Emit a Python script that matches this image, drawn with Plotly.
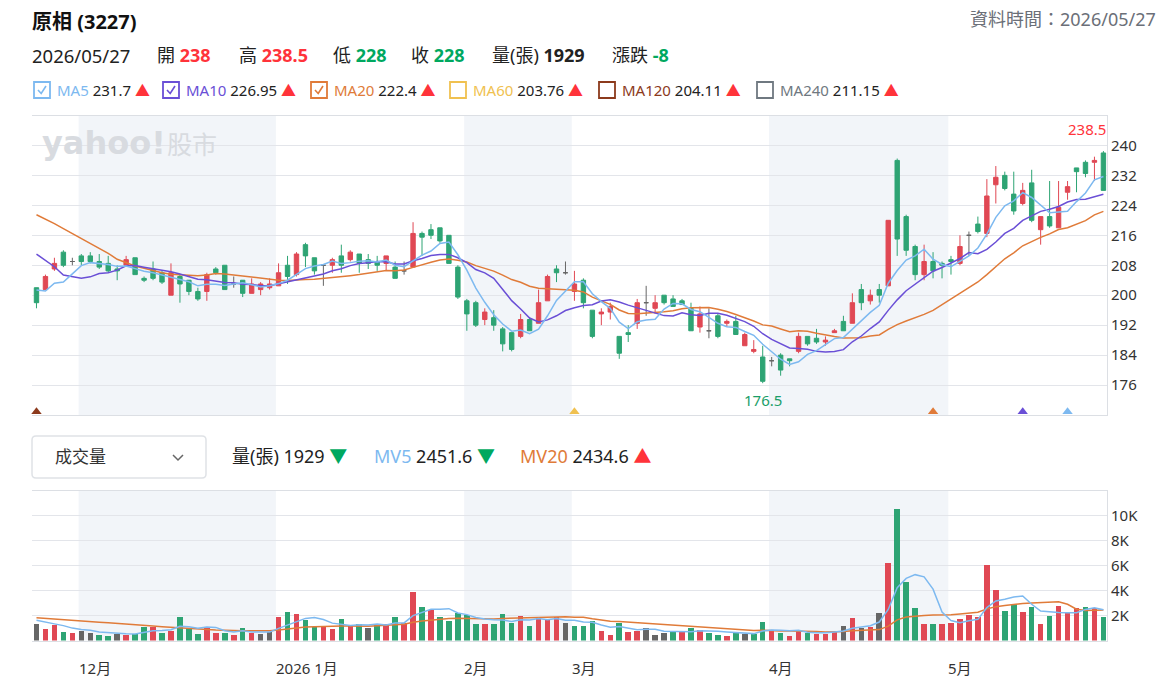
import plotly.graph_objects as go

W, H = 1170, 686
FONT = "Noto Sans, Noto Sans CJK TC, sans-serif"

# ---------------- data ----------------
stock_name = "原相 (3227)"
data_date = "2026/05/27"
month_labels = ["11月", "12月", "2026 1月", "2月", "3月", "4月", "5月"]
month_days = [5, 22, 21, 12, 22, 20, 18]   # trading days per month shown

opens = [202, 201.5, 207, 211.5, 209, 210.5, 210.5, 209, 208.5, 207,
         208, 210, 204.5, 207, 206, 200, 205, 204, 201, 201,
         207, 208, 203, 204, 200.5, 201.5, 202, 202.5, 208, 205.5,
         213.5, 210, 208, 208, 210.5, 209.5, 211, 209.5, 209, 208.5,
         207.5, 206.5, 207.5, 216.5, 217.5, 218, 216, 207.5, 198.5, 198,
         193.5, 194, 191, 190, 189, 193.5, 192.5, 198.5, 207, 206,
         201, 204, 196, 195, 195.5, 189, 190, 192.5, 198, 196.5,
         200, 199, 198.5, 196.5, 191.5, 190.5, 194.5, 192.5, 193, 186.5,
         185, 183.5, 182.5, 184, 183, 185, 189, 188.5, 187.5, 190,
         193, 192.5, 201.5, 198.5, 201.5, 202.5, 236, 221, 213, 205.5,
         209, 208.5, 209.5, 208.5, 216, 219, 216.5, 229.5, 232, 227,
         224.5, 230, 217.5, 221, 218, 227.5, 234, 235.5, 235.5, 238]
highs = [202, 205.5, 210, 212, 210, 211, 211.5, 211, 210.5, 208,
         210.5, 210, 205, 209, 206.5, 208.5, 205.5, 204, 202, 206,
         207.5, 208, 205, 204, 204.5, 203.5, 204.5, 208.5, 210.5, 211.5,
         214, 210, 208, 210, 213.5, 212, 211, 211, 210.5, 210.5,
         209, 209, 219.5, 217, 219, 218, 216, 208, 199, 198.5,
         196.5, 196, 191.5, 190, 195, 194, 201.5, 205.5, 208, 209,
         206.5, 204.5, 196, 196.5, 198, 189, 192, 199, 202.5, 200,
         200, 200, 199, 198, 197, 196.5, 195, 193.5, 194.5, 190,
         188, 186.5, 183.5, 184.5, 183, 190, 189, 191, 189, 191,
         194.5, 200.5, 203, 201.5, 203, 220, 236.5, 221.5, 213.5, 213.5,
         211.5, 209, 210.5, 216, 217, 221, 231, 234.5, 233, 233,
         230, 233.5, 221, 230.5, 230.5, 230.5, 234, 236, 237, 238.5]
lows = [196.5, 201.5, 206.5, 207.5, 208, 208, 208.5, 207, 206, 204,
        208, 205.5, 203.5, 204, 203, 200, 198, 200, 198.5, 198.5,
        205.5, 201.5, 202, 199.5, 200.5, 200, 201.5, 202.5, 203, 205,
        207.5, 205.5, 202.5, 206, 206, 209, 206, 207, 206.5, 206.5,
        204.5, 205.5, 207.5, 210.5, 215, 214, 208.5, 199, 190.5, 191.5,
        192, 190.5, 185, 185, 188.5, 190.5, 192.5, 198.5, 203.5, 205.5,
        198.5, 196.5, 188.5, 192, 193.5, 183, 187.5, 191, 194.5, 195,
        197.5, 197, 197.5, 190.5, 190, 188.5, 188.5, 191.5, 189.5, 186.5,
        184.5, 176.5, 181, 178.5, 181, 184.5, 186.5, 187, 186.5, 190,
        190.5, 192.5, 196, 197.5, 198, 202.5, 210.5, 210.5, 204, 204,
        204.5, 204.5, 205.5, 208, 210.5, 216.5, 215.5, 224.5, 228, 221.5,
        224, 219.5, 213.5, 218, 218, 225.5, 227.5, 231.5, 230.5, 228]
closes = [198, 205, 208.5, 208, 209, 209, 209, 207.5, 206.5, 206.5,
          209.5, 205.5, 204, 204.5, 203.5, 206, 203, 201, 199, 205.5,
          206, 201.5, 203, 200.5, 203, 203, 203, 206, 205, 211,
          210.5, 206.5, 208, 209.5, 208, 211.5, 208.5, 208.5, 208, 210.5,
          204.5, 206.5, 216.5, 215.5, 216, 214.5, 208.5, 199.5, 195, 192,
          195.5, 192, 187, 185.5, 193.5, 190.5, 198, 205, 206, 206,
          203, 198, 189, 195.5, 197, 184.5, 189.5, 198, 198, 198,
          198, 197, 197.5, 190.5, 195, 190.5, 189, 193, 189.5, 189.5,
          185.5, 177, 182.5, 180, 182.5, 189, 187, 187.5, 188, 190.5,
          190.5, 198, 198, 200, 200, 220, 215, 212, 205.5, 209,
          206.5, 208, 209, 213, 216, 217, 226.5, 231.5, 228.5, 222.5,
          228, 220, 221, 218.5, 223.5, 229, 233, 232.5, 236, 228]
volumes = [1360, 930, 1250, 750, 670, 830, 640, 510, 430, 590,
           510, 560, 1150, 1090, 640, 830, 1950, 960, 560, 1120,
           640, 640, 450, 1010, 670, 530, 690, 1950, 2350, 2130,
           1710, 1090, 1090, 930, 1730, 1170, 1330, 1010, 1330, 1330,
           1950, 1410, 3950, 2750, 2450, 1950, 1630, 2240, 2080, 1330,
           1330, 1330, 2130, 1440, 2030, 1230, 1950, 1650, 1890, 1420,
           1200, 1200, 1600, 800, 510, 1470, 720, 830, 1010, 510,
           610, 720, 690, 1010, 910, 610, 510, 400, 720, 530,
           590, 1520, 800, 610, 400, 800, 670, 590, 590, 720,
           1200, 1810, 1040, 1120, 2210, 6240, 10530, 4750, 2610, 1330,
           1330, 1330, 1410, 1730, 2074, 1920, 6050, 4050, 2400, 2980,
           2320, 2740, 1330, 2000, 2770, 2290, 2680, 2690, 2669, 1929]

# moving-average values at the left edge (window starts before the visible data)
ma5_head = [201.4, 201.1, 203.2, 203.5]
ma10_head = [211.0, 209.4, 207.6, 205.4, 204.85, 204.5, 204.9, 205.8, 206.0]
ma20_head = [221.5, 220.4, 219.1, 217.8, 216.5, 215.1, 214.0, 212.5, 211.2, 209.6,
             208.7, 207.8, 207.2, 206.5, 206.0, 205.6, 205.5, 205.4, 205.2]
mv5_head = [1620, 1450, 1330, 1190]
mv20_head = [1820, 1760, 1700, 1640, 1580, 1540, 1500, 1460, 1420, 1380,
             1330, 1280, 1220, 1160, 1100, 1050, 1000, 960, 920]
other_ma = [("MA60", 203.76), ("MA120", 204.11), ("MA240", 211.15)]

signal_idx = [0, 60, 100, 110, 115]
signal_ma = ["MA120", "MA60", "MA20", "MA10", "MA5"]

# ---------------- styles ----------------
RED = "#e04854"
GREEN = "#2ea474"
GRAY = "#666666"
TXT_RED = "#ff333a"
TXT_GREEN = "#00a85f"
GRID = "#e3e5ea"
AXLINE = "#dcdfe4"
SHADE = "#f2f5f9"
MA_COLORS = {"MA5": "#7db9f0", "MA10": "#6a4fd6", "MA20": "#e07b39",
             "MA60": "#f0c150", "MA120": "#8c3a1c", "MA240": "#6f7880"}
MV_COLORS = {"MV5": "#7db9f0", "MV20": "#e07b39"}


def rolling(vals, n, head):
    out = list(head)
    for i in range(len(head), len(vals)):
        out.append(sum(vals[i - n + 1:i + 1]) / n)
    return out


N = len(closes)
idx = list(range(N))
ma5 = rolling(closes, 5, ma5_head)
ma10 = rolling(closes, 10, ma10_head)
ma20 = rolling(closes, 20, ma20_head)
mv5 = rolling(volumes, 5, mv5_head)
mv20 = rolling(volumes, 20, mv20_head)

fig = go.Figure()

# candles: up / down / flat
groups = [
    ([i for i in idx if closes[i] > opens[i]], RED),
    ([i for i in idx if closes[i] < opens[i]], GREEN),
    ([i for i in idx if closes[i] == opens[i]], GRAY),
]
for ii, col in groups:
    fig.add_trace(go.Candlestick(
        x=ii, open=[opens[i] for i in ii], high=[highs[i] for i in ii],
        low=[lows[i] for i in ii], close=[closes[i] for i in ii],
        increasing=dict(line=dict(color=col, width=1), fillcolor=col),
        decreasing=dict(line=dict(color=col, width=1), fillcolor=col),
        whiskerwidth=0, xaxis="x", yaxis="y", hoverinfo="skip"))

for name, vals in (("MA20", ma20), ("MA10", ma10), ("MA5", ma5)):
    fig.add_trace(go.Scatter(x=idx, y=vals, mode="lines",
                             line=dict(color=MA_COLORS[name], width=1.5),
                             xaxis="x", yaxis="y", hoverinfo="skip"))

# signal triangles along the bottom of the price panel
fig.add_trace(go.Scatter(
    x=signal_idx, y=[168.9] * len(signal_idx), mode="markers",
    marker=dict(symbol="triangle-up", size=9,
                color=[MA_COLORS[m] for m in signal_ma]),
    xaxis="x", yaxis="y", hoverinfo="skip", cliponaxis=False))

# volume bars
vol_colors = []
for i in idx:
    if i == 0 or closes[i] == closes[i - 1]:
        vol_colors.append(GRAY)
    elif closes[i] > closes[i - 1]:
        vol_colors.append(RED)
    else:
        vol_colors.append(GREEN)
fig.add_trace(go.Bar(x=idx, y=volumes, marker=dict(color=vol_colors, line=dict(width=0)),
                     width=0.62, xaxis="x2", yaxis="y2", hoverinfo="skip"))
for name, vals in (("MV20", mv20), ("MV5", mv5)):
    fig.add_trace(go.Scatter(x=idx, y=vals, mode="lines",
                             line=dict(color=MV_COLORS[name], width=1.5),
                             xaxis="x2", yaxis="y2", hoverinfo="skip"))

# ---------------- layout ----------------
XD = [32 / W, 1107 / W]
XR = [-0.5, N - 0.6]
fig.update_layout(
    width=W, height=H, margin=dict(l=0, r=0, t=0, b=0),
    paper_bgcolor="white", plot_bgcolor="white", showlegend=False,
    hovermode=False, bargap=0,
    font=dict(family=FONT, color="#222"),
    xaxis=dict(domain=XD, range=XR, anchor="y", showticklabels=False, showgrid=False,
               zeroline=False, showline=True, mirror=True, linecolor=AXLINE,
               rangeslider=dict(visible=False), fixedrange=True),
    yaxis=dict(domain=[1 - 415 / H, 1 - 115.5 / H], range=[168, 248], anchor="x",
               side="right", tickvals=list(range(176, 241, 8)), gridcolor=GRID,
               showline=True, linecolor=AXLINE, zeroline=False, ticks="",
               tickfont=dict(size=15, color="#333"), automargin=False),
    xaxis2=dict(domain=XD, range=XR, anchor="y2", showticklabels=False, showgrid=False,
                zeroline=False, showline=True, mirror=True, linecolor=AXLINE),
    yaxis2=dict(domain=[1 - 640.5 / H, 1 - 490.5 / H], range=[0, 12000], anchor="x2",
                side="right", tickvals=[2000, 4000, 6000, 8000, 10000],
                ticktext=["2K", "4K", "6K", "8K", "10K"], gridcolor=GRID,
                showline=True, linecolor=AXLINE, zeroline=False, ticks="",
                tickfont=dict(size=15, color="#333"), automargin=False),
)

# month shading and labels
starts = []
s = 0
for d in month_days:
    starts.append(s)
    s += d
shapes = []
for k in range(len(month_days)):
    x0 = starts[k] - 0.3
    x1 = (starts[k + 1] - 0.3) if k + 1 < len(month_days) else XR[1]
    if k % 2 == 1:
        for xr, yr in (("x", "y domain"), ("x2", "y2 domain")):
            shapes.append(dict(type="rect", xref=xr, yref=yr, x0=x0, x1=x1, y0=0, y1=1,
                               fillcolor=SHADE, line=dict(width=0), layer="below"))
    if k >= 1:
        fig.add_annotation(x=x0, y=1 - 668 / H, xref="x2", yref="paper",
                           text=month_labels[k], showarrow=False, xanchor="left",
                           yanchor="middle", xshift=-2,
                           font=dict(size=15, color="#333", family=FONT))


def P(x, y):
    return x / W, 1 - y / H


def ann(x, y, text, size, color="#222", xanchor="left", family=FONT):
    px, py = P(x, y)
    fig.add_annotation(x=px, y=py, xref="paper", yref="paper", text=text,
                       showarrow=False, xanchor=xanchor, yanchor="middle",
                       font=dict(size=size, color=color, family=family))


def fmt(v):
    return f"{round(v, 2):g}"


def span(t, c):
    return f"<span style='color:{c}'>{t}</span>"


# watermark
ann(40, 143, "<b>yahoo!</b>", 32, "#d8dbe0", family="DejaVu Sans")
ann(165, 143, "股市", 25, "#d8dbe0", family="Noto Sans CJK TC")

# header
ann(30, 21, f"<b>{stock_name}</b>", 20, "#111")
ann(1158, 19, f"資料時間：{data_date}", 18, "#6b6f78", xanchor="right")

prev = closes[-2]


def updn(v):
    return TXT_RED if v > prev else (TXT_GREEN if v < prev else "#222")


row_y = 55
ann(30, row_y, data_date, 18.5)
ann(155, row_y, "開 " + span(f"<b>{fmt(opens[-1])}</b>", updn(opens[-1])), 18)
ann(237, row_y, "高 " + span(f"<b>{fmt(highs[-1])}</b>", updn(highs[-1])), 18)
ann(331, row_y, "低 " + span(f"<b>{fmt(lows[-1])}</b>", updn(lows[-1])), 18)
ann(409, row_y, "收 " + span(f"<b>{fmt(closes[-1])}</b>", updn(closes[-1])), 18)
ann(490, row_y, f"量(張) <b>{volumes[-1]}</b>", 18)
chg = closes[-1] - prev
ann(610, row_y, "漲跌 " + span(f"<b>{fmt(chg)}</b>", TXT_RED if chg > 0 else TXT_GREEN), 18)

# MA legend with checkboxes
ma_entries = [("MA5", ma5[-1], True), ("MA10", ma10[-1], True), ("MA20", ma20[-1], True)] + \
             [(n, v, False) for n, v in other_ma]
box_x = [34, 163, 311, 450, 599, 757]
for (name, val, checked), bx in zip(ma_entries, box_x):
    c = MA_COLORS[name]
    x0, y0 = P(bx, 82)
    x1, y1 = P(bx + 16, 98)
    shapes.append(dict(type="rect", xref="paper", yref="paper", x0=x0, y0=y1, x1=x1, y1=y0,
                       line=dict(color=c, width=1.8), fillcolor="white"))
    if checked:
        a = P(bx + 4, 90)
        b = P(bx + 7.2, 93.5)
        d = P(bx + 12, 86)
        shapes.append(dict(type="path", xref="paper", yref="paper",
                           path=f"M{a[0]},{a[1]} L{b[0]},{b[1]} L{d[0]},{d[1]}",
                           line=dict(color=c, width=1.6)))
    ann(bx + 21, 90, span(name, c) + f" {fmt(val)} " + span("▲", TXT_RED), 15)

# volume panel header: dropdown + legend
bx0, by0, bx1, by1, r = 32, 436, 206, 478, 4


def pp(x, y):
    q = P(x, y)
    return f"{q[0]},{q[1]}"


path = (f"M{pp(bx0 + r, by0)} L{pp(bx1 - r, by0)} Q{pp(bx1, by0)} {pp(bx1, by0 + r)} "
        f"L{pp(bx1, by1 - r)} Q{pp(bx1, by1)} {pp(bx1 - r, by1)} L{pp(bx0 + r, by1)} "
        f"Q{pp(bx0, by1)} {pp(bx0, by1 - r)} L{pp(bx0, by0 + r)} Q{pp(bx0, by0)} {pp(bx0 + r, by0)} Z")
shapes.append(dict(type="path", xref="paper", yref="paper", path=path,
                   line=dict(color="#dfe2e6", width=1.5), fillcolor="white"))
shapes.append(dict(type="path", xref="paper", yref="paper",
                   path=f"M{pp(173, 455)} L{pp(178, 460)} L{pp(183, 455)}",
                   line=dict(color="#666", width=1.5)))
ann(53, 457, "成交量", 17, "#333")

vol_arrow = span("▼", TXT_GREEN) if volumes[-1] < volumes[-2] else span("▲", TXT_RED)
mv5_arrow = span("▼", TXT_GREEN) if mv5[-1] < mv5[-2] else span("▲", TXT_RED)
mv20_arrow = span("▼", TXT_GREEN) if mv20[-1] < mv20[-2] else span("▲", TXT_RED)
ann(230, 456, f"量(張) {volumes[-1]} " + vol_arrow, 18)
ann(372, 456, span("MV5", MV_COLORS["MV5"]) + f" {fmt(mv5[-1])} " + mv5_arrow, 18)
ann(518, 456, span("MV20", MV_COLORS["MV20"]) + f" {fmt(mv20[-1])} " + mv20_arrow, 18)

# high / low labels
hi_i = max(idx, key=lambda i: highs[i])
lo_i = min(idx, key=lambda i: lows[i])
fig.add_annotation(x=hi_i, y=highs[hi_i], xref="x", yref="y", text=fmt(highs[hi_i]),
                   showarrow=False, xanchor="right", yanchor="bottom", xshift=5, yshift=10,
                   font=dict(size=15, color=TXT_RED, family=FONT))
fig.add_annotation(x=lo_i, y=lows[lo_i], xref="x", yref="y", text=fmt(lows[lo_i]),
                   showarrow=False, xanchor="center", yanchor="top", yshift=-5,
                   font=dict(size=15, color="#1a9e68", family=FONT))

fig.update_layout(shapes=shapes)
fig.write_html("out.html")
